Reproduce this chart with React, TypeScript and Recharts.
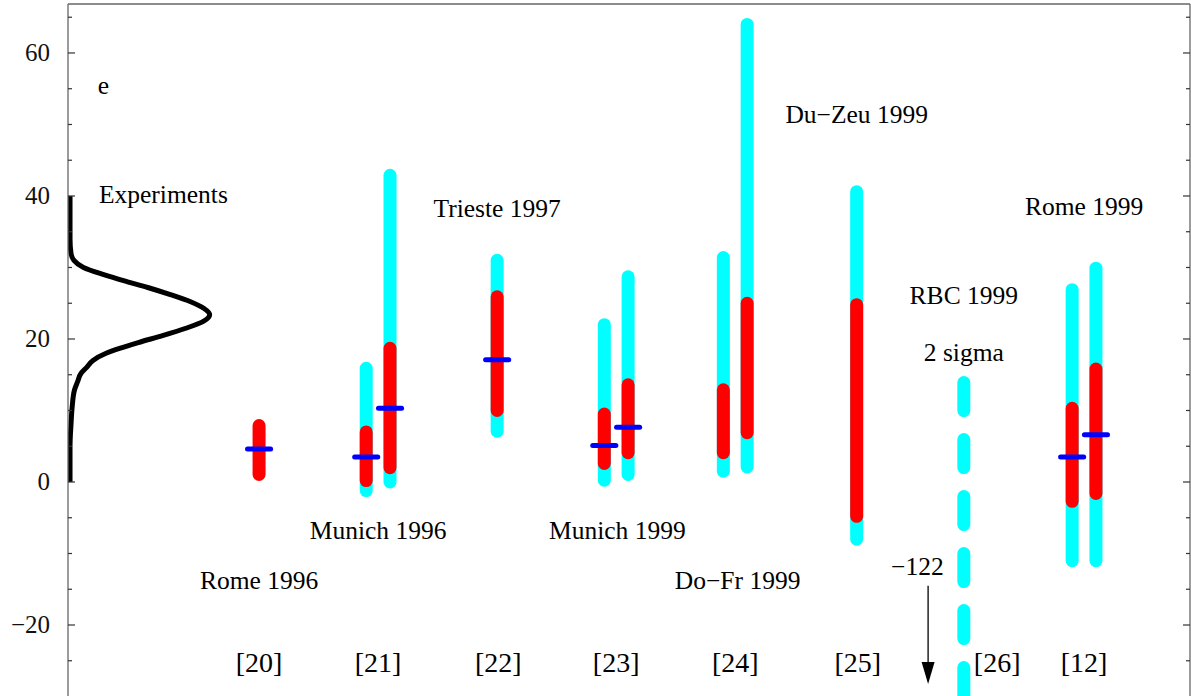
import { ComposedChart, Line, XAxis, YAxis, ReferenceLine, ReferenceDot } from "recharts";

const X_MIN = -0.605;
const X_MAX = 8.82;
const Y_MIN = -29.93;
const Y_MAX = 66.85;

// one entry per calculation: x slot, 2-sigma range (cyan), 1-sigma range (red), central value (blue)
const barX = [1, 1.9, 2.1, 3, 3.9, 4.1, 4.9, 5.1, 6.02, 7.83, 8.03];
const cyanLo = [null, -1.2, 0, 7.1, 0.25, 1.05, 1.5, 2.1, -8.0, -11.0, -11.0];
const cyanHi = [null, 15.9, 42.9, 31.0, 22.0, 28.7, 31.4, 64.0, 40.6, 26.9, 29.9];
const redLo = [1.05, 0.2, 2.0, 10.0, 2.6, 4.1, 4.1, 6.9, -4.8, -2.7, -1.6];
const redHi = [7.9, 7.0, 18.7, 25.9, 9.5, 13.6, 12.9, 25.0, 24.8, 10.3, 15.8];
const central = [4.6, 3.5, 10.3, 17.1, 5.1, 7.65, null, null, null, 3.5, 6.6];

// RBC 1999, 2 sigma, runs off the bottom to -122
const rbcX = 6.92;
const rbcHi = 13.9;
const rbcLo = -122;
const arrowX = 6.62;
const arrowFrom = -14.5;
const arrowTo = -28.25;

const expY = [0, 5, 8, 10.5, 12.9, 14, 15.2, 16, 17, 18, 18.5, 19.5, 20.5, 21.5, 22.5, 23.4, 24.3, 25.2, 26.2, 27.2, 28, 29, 30, 31, 32, 34, 37, 40];
const expDensity = [0.017, 0.017, 0.025, 0.035, 0.055, 0.08, 0.11, 0.155, 0.21, 0.32, 0.4, 0.59, 0.8, 0.99, 1.14, 1.19, 1.14, 1.03, 0.86, 0.67, 0.5, 0.3, 0.13, 0.05, 0.025, 0.017, 0.017, 0.017];

const refLabels = ["[20]", "[21]", "[22]", "[23]", "[24]", "[25]", "[26]", "[12]"];
const refX = [1.0, 2.0, 3.01, 4.0, 5.0, 6.03, 7.2, 7.93];
const refY = -26.6;

const noteText = ["e", "Experiments", "Trieste 1997", "Du\u2212Zeu 1999", "Rome 1999", "RBC 1999", "2 sigma", "Munich 1996", "Munich 1999", "Rome 1996", "Do\u2212Fr 1999", "\u2212122"];
const noteX = [-0.355, -0.345, 3.0, 6.02, 7.93, 6.92, 6.92, 2.0, 4.01, 1.0, 5.02, 6.53];
const noteY = [54.3, 39.0, 37.06, 50.17, 37.3, 24.9, 16.9, -8.0, -8.0, -15.0, -15.0, -13.0];
const noteStart = [true, true, false, false, false, false, false, false, false, false, false, false];

const yTicks = [-25, -20, -15, -10, -5, 0, 5, 10, 15, 20, 25, 30, 35, 40, 45, 50, 55, 60, 65];

const FONT = "Liberation Serif, Times New Roman, serif";
const FRAME = "#666";
const BAR_W = 13;
const MARK_HALF = 0.097;

const curve = expY.map((y, i) => ({ x: X_MIN + expDensity[i], y }));

const LeftTick = ({ x, y, payload }: any) => {
  const v = payload.value;
  const major = v % 20 === 0;
  return (
    <g>
      <line x1={x} x2={x + (major ? 7 : 4)} y1={y} y2={y} stroke="#333" strokeWidth={1.2} />
      {major && (
        <text x={x - 18} y={y + 8.5} textAnchor="end" fontSize={25} fontFamily={FONT} fill="#111">
          {v < 0 ? `\u2212${-v}` : v}
        </text>
      )}
    </g>
  );
};

// inward ticks along the right edge of the frame
const RightTick = ({ x, y, payload }: any) => {
  const major = payload.value % 20 === 0;
  return <line x1={x} x2={x - (major ? 7 : 4)} y1={y} y2={y} stroke="#333" strokeWidth={1.2} />;
};

const Arrow = (p: any) => {
  const { x1, y1, x2, y2 } = p;
  return (
    <g>
      <line x1={x1} y1={y1} x2={x2} y2={y2 - 20} stroke="#000" strokeWidth={1.3} />
      <polygon points={`${x2 - 6.5},${y2 - 22} ${x2 + 6.5},${y2 - 22} ${x2},${y2}`} fill="#000" />
    </g>
  );
};

export default function App() {
  return (
    <div style={{ width: 1191, height: 696, background: "#fff" }}>
      <style>{"body{margin:0}"}</style>
      <ComposedChart width={1191} height={696} margin={{ top: 4, right: 0, bottom: 0, left: 0 }}>
        <XAxis type="number" dataKey="x" domain={[X_MIN, X_MAX]} allowDataOverflow hide />
        <YAxis
          type="number"
          domain={[Y_MIN, Y_MAX]}
          allowDataOverflow
          ticks={yTicks}
          interval={0}
          width={68}
          tickSize={0}
          tickMargin={0}
          tickLine={false}
          tick={<LeftTick />}
          axisLine={{ stroke: FRAME, strokeWidth: 1.3 }}
        />
        <YAxis
          yAxisId="r"
          orientation="right"
          type="number"
          domain={[Y_MIN, Y_MAX]}
          allowDataOverflow
          ticks={yTicks}
          interval={0}
          width={1}
          tickSize={0}
          tickMargin={0}
          tickLine={false}
          tick={<RightTick />}
          axisLine={false}
        />

        {/* frame: top and right edges */}
        <ReferenceLine y={Y_MAX} stroke={FRAME} strokeWidth={1.3} ifOverflow="visible" />
        <ReferenceLine x={X_MAX} stroke={FRAME} strokeWidth={1.3} ifOverflow="visible" />

        <Line
          data={curve}
          dataKey="y"
          type="monotoneY"
          stroke="#000"
          strokeWidth={5}
          dot={false}
          activeDot={false}
          isAnimationActive={false}
        />

        {barX.map((x, i) =>
          cyanLo[i] == null ? null : (
            <ReferenceLine
              key={`c${i}`}
              segment={[{ x, y: cyanHi[i] }, { x, y: cyanLo[i] }]}
              stroke="#00ffff"
              strokeWidth={BAR_W}
              strokeLinecap="round"
              ifOverflow="visible"
            />
          )
        )}
        <ReferenceLine
          segment={[{ x: rbcX, y: rbcHi }, { x: rbcX, y: rbcLo }]}
          stroke="#00ffff"
          strokeWidth={BAR_W}
          strokeLinecap="round"
          strokeDasharray="28 29"
          ifOverflow="hidden"
        />
        {barX.map((x, i) => (
          <ReferenceLine
            key={`r${i}`}
            segment={[{ x, y: redHi[i] }, { x, y: redLo[i] }]}
            stroke="#ff0000"
            strokeWidth={BAR_W}
            strokeLinecap="round"
            ifOverflow="visible"
          />
        ))}
        {barX.map((x, i) =>
          central[i] == null ? null : (
            <ReferenceLine
              key={`b${i}`}
              segment={[{ x: x - MARK_HALF, y: central[i] }, { x: x + MARK_HALF, y: central[i] }]}
              stroke="#0000ff"
              strokeWidth={5}
              strokeLinecap="round"
              ifOverflow="visible"
            />
          )
        )}
        <ReferenceLine
          segment={[{ x: arrowX, y: arrowFrom }, { x: arrowX, y: arrowTo }]}
          ifOverflow="visible"
          shape={<Arrow />}
        />

        {noteText.map((t, i) => (
          <ReferenceDot
            key={`n${i}`}
            x={noteX[i]}
            y={noteY[i]}
            r={0}
            ifOverflow="visible"
            shape={(p: any) => (
              <text x={p.cx} y={p.cy} textAnchor={noteStart[i] ? "start" : "middle"} fontSize={25.5} fontFamily={FONT} fill="#000">
                {t}
              </text>
            )}
          />
        ))}
        {refLabels.map((t, i) => (
          <ReferenceDot
            key={`l${i}`}
            x={refX[i]}
            y={refY}
            r={0}
            ifOverflow="visible"
            shape={(p: any) => (
              <text x={p.cx} y={p.cy} textAnchor="middle" fontSize={28} fontFamily={FONT} fill="#000">
                {t}
              </text>
            )}
          />
        ))}
      </ComposedChart>
    </div>
  );
}
